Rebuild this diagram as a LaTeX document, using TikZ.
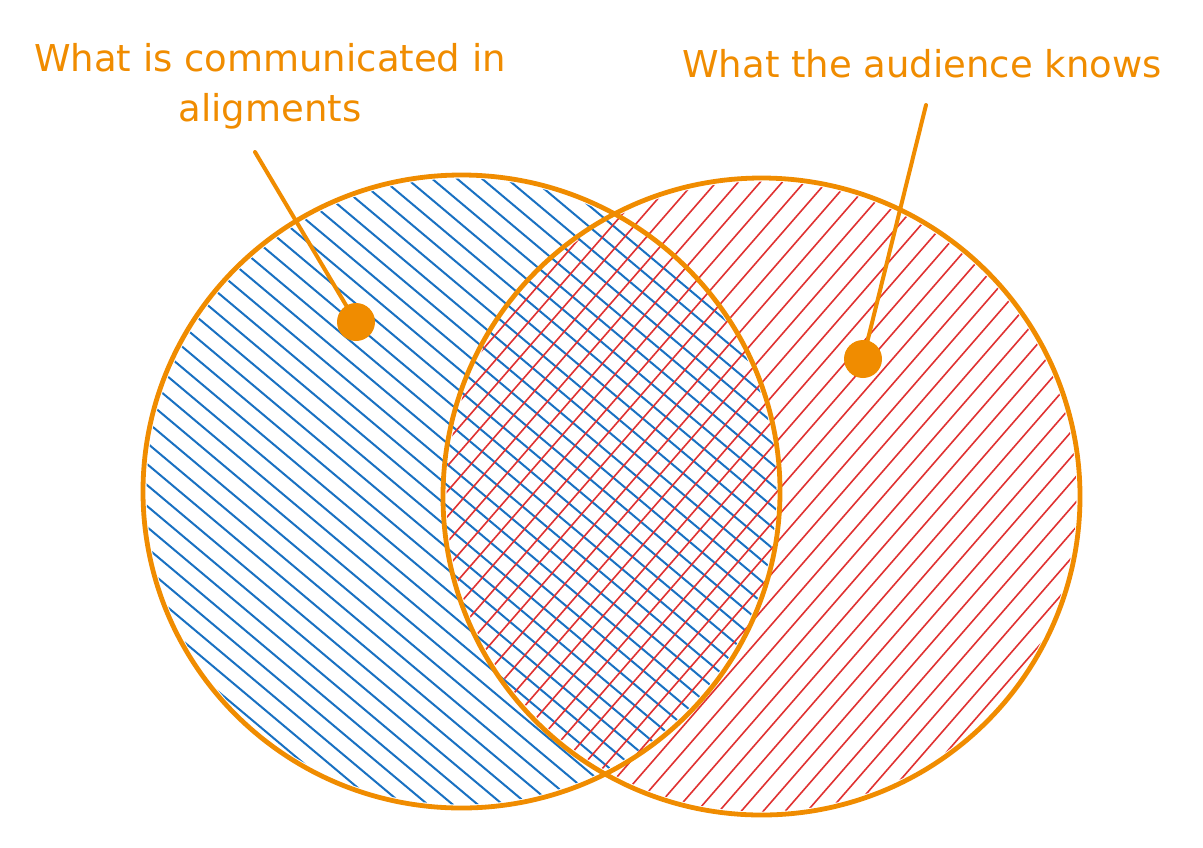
\documentclass[tikz,border=0pt]{standalone}
\usepackage{fontspec}
\setmainfont{DejaVu Sans}
\definecolor{exorange}{HTML}{F08C00}
\definecolor{exblue}{HTML}{1971C2}
\definecolor{exred}{HTML}{E03131}
\begin{document}
\begin{tikzpicture}[x=0.5pt,y=-0.5pt,
  outline/.style={draw=exorange,line width=2.4pt},
  bluehatch/.style={draw=exblue,line width=1pt},
  redhatch/.style={draw=exred,line width=0.8pt},
  lbl/.style={text=exorange,font=\fontsize{18.5}{25}\selectfont,align=center,inner sep=0pt},
  pointer/.style={draw=exorange,line width=2pt,line cap=round},
  dot/.style={circle,fill=exorange,inner sep=0pt,minimum size=19pt}]
\useasboundingbox[fill=white] (0,0) rectangle (1203,847);
% blue hachure (left set)
\begin{scope}
  \clip (461.5,491.5) ellipse [x radius=315, y radius=313];
  \foreach \a in {-1100,-1075,...,500} \draw[bluehatch] (\a,-100) -- ++(1400,1175);
\end{scope}
% red hachure (right set)
\begin{scope}
  \clip (761.5,496.5) ellipse [x radius=315, y radius=315];
  \foreach \b in {-40,-18,...,960} \draw[redhatch] (\b,900) -- ++(1000,-1150);
\end{scope}
% outlines
\draw[outline] (461.5,491.5) ellipse [x radius=318.5, y radius=316.5];
\draw[outline] (761.5,496.5) ellipse [x radius=318.5, y radius=318.5];
% labels
\node[lbl] (lblA) at (270,86) {What is communicated in\\aligments};
\node[lbl,anchor=base] (lblB) at (922,77) {What the audience knows};
% pointers
\coordinate (pA) at (255,152);
\node[dot] (dA) at (356,322) {};
\draw[pointer] (pA) -- (dA.center);
\coordinate (pB) at (926,105);
\node[dot] (dB) at (863,359) {};
\draw[pointer] (pB) -- (dB.center);
\end{tikzpicture}
\end{document}
